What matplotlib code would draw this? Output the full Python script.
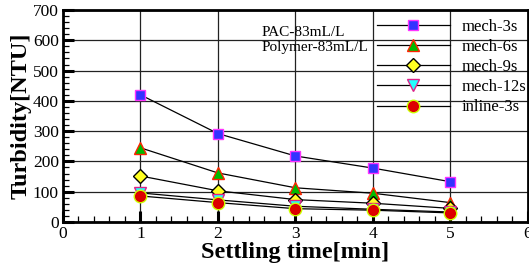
import matplotlib
matplotlib.use("Agg")
import matplotlib.pyplot as plt
from matplotlib.ticker import MultipleLocator

plt.rcParams["font.family"] = ["Liberation Serif", "DejaVu Serif"]

TIME = [1, 2, 3, 4, 5]
MECH3 = [420, 292, 218, 178, 133]
MECH6 = [245, 162, 113, 95, 64]
MECH9 = [152, 103, 74, 62, 45]
MECH12 = [96, 73, 52, 42, 33]
INLINE3 = [86, 64, 44, 39, 30]

SERIES = [
    ("mech-3s", MECH3, "s", "#3333ff", "#ff33ff", 7.5),
    ("mech-6s", MECH6, "^", "#00bb00", "#ff2200", 8.5),
    ("mech-9s", MECH9, "D", "#ffff22", "#000000", 7),
    ("mech-12s", MECH12, "v", "#22ffff", "#dd2288", 8.5),
    ("inline-3s", INLINE3, "o", "#dd0000", "#ccff00", 9),
]

fig = plt.figure(figsize=(5.29, 2.67), dpi=100)
ax = fig.add_axes([0.119, 0.1685, 0.879, 0.794])

for label, ys, m, fc, ec, ms in SERIES:
    ax.plot(TIME, ys, color="black", lw=0.9, marker=m, ms=ms,
            markerfacecolor=fc, markeredgecolor=ec, markeredgewidth=1.0,
            label=label, zorder=3)

ax.set_xlim(0, 6)
ax.set_ylim(0, 700)
ax.xaxis.set_major_locator(MultipleLocator(1))
ax.xaxis.set_minor_locator(MultipleLocator(0.2))
ax.yaxis.set_major_locator(MultipleLocator(100))
ax.yaxis.set_minor_locator(MultipleLocator(20))
ax.tick_params(which="major", direction="in", length=8, width=2.2, labelsize=12.5,
               top=False, right=False, pad=3)
ax.tick_params(which="minor", direction="in", length=4, width=0.9,
               top=False, right=False)
for s in ax.spines.values():
    s.set_linewidth(2)
ax.grid(True, which="major", color="#222222", lw=0.9, zorder=0)
ax.set_axisbelow(True)

ax.set_xlabel("Settling time[min]", fontsize=17.5, fontweight="bold", labelpad=0)
ax.set_ylabel("Turbidity[NTU]", fontsize=17.5, fontweight="bold", labelpad=1)

ax.text(2.56, 625, "PAC-83mL/L", fontsize=11, va="center", ha="left")
ax.text(2.56, 575, "Polymer-83mL/L", fontsize=11, va="center", ha="left")

ax.legend(loc="upper left", bbox_to_anchor=(0.66, 0.99), frameon=False,
          fontsize=12, handlelength=4.4, handletextpad=0.7,
          labelspacing=0.25, borderaxespad=0)

fig.savefig("out.png", dpi=100)
